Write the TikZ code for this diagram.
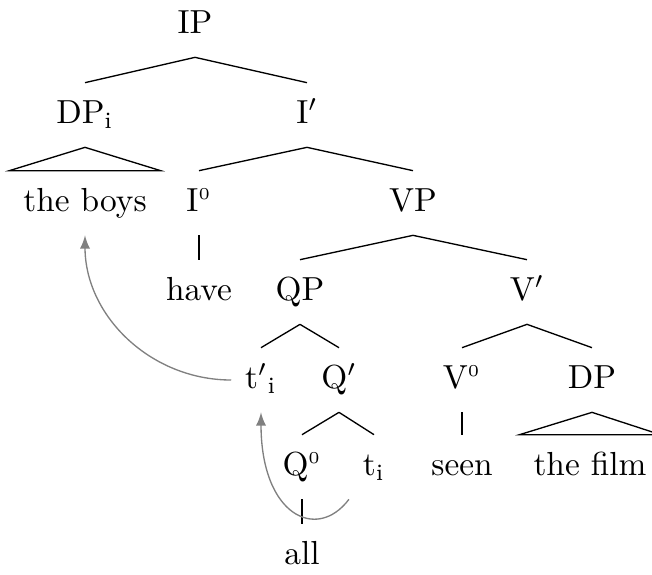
\documentclass[tikz,border=0pt]{standalone}
\usetikzlibrary{arrows}
\tikzset{>=latex}
\tikzset{font=\normalsize}
\tikzset{cat/.style={inner xsep=4pt, inner ysep=5pt, text height=7pt, text depth=2pt},
  trace/.style={->, gray, thin}}
\newcommand{\zerobar}{\textsuperscript{\tiny 0}}

\begin{document}
\begin{tikzpicture}[x=0.3pt, y=-0.3pt]
  \useasboundingbox (0,0) rectangle (652,574);
  % categories and words
  \node[cat] (ip) at (195,25) {IP};
  \node[cat] (dpi) at (85,115) {DP\textsubscript{i}};
  \node[cat] (ibar) at (307,115) {I$'$};
  \node[cat] (boys) at (85,203) {the boys};
  \node[cat] (izero) at (199,203) {I\zerobar};
  \node[cat] (vp) at (413,203) {VP};
  \node[cat] (have) at (199,292) {have};
  \node[cat] (qp) at (300,292) {QP};
  \node[cat] (vbar) at (527,292) {V$'$};
  \node[cat] (tpr) at (261,380) {t$'$\textsubscript{i}};
  \node[cat] (qbar) at (339,380) {Q$'$};
  \node[cat] (vzero) at (462,380) {V\zerobar};
  \node[cat] (dp) at (592,380) {DP};
  \node[cat] (qzero) at (302,467) {Q\zerobar};
  \node[cat] (ti) at (374,467) {t\textsubscript{i}};
  \node[cat] (seen) at (462,467) {seen};
  \node[cat] (film) at (590,467) {the film};
  \node[cat] (all) at (302,556) {all};
  % branches
  \draw (ip.south) -- (dpi.north);
  \draw (ip.south) -- (ibar.north);
  \draw (ibar.south) -- (izero.north);
  \draw (ibar.south) -- (vp.north);
  \draw (vp.south) -- (qp.north);
  \draw (vp.south) -- (vbar.north);
  \draw (qp.south) -- (tpr.north);
  \draw (qp.south) -- (qbar.north);
  \draw (vbar.south) -- (vzero.north);
  \draw (vbar.south) -- (dp.north);
  \draw (qbar.south) -- (qzero.north);
  \draw (qbar.south) -- (ti.north);
  \draw (izero.south) -- (have.north);
  \draw (vzero.south) -- (seen.north);
  \draw (qzero.south) -- (all.north);
  % triangles
  \draw (dpi.south) -- (boys.north west) -- (boys.north east) -- cycle;
  \draw (dp.south) -- (film.north west) -- (film.north east) -- cycle;
  % movement
  \draw[trace] (tpr.west) to[out=180, in=-90] (boys.south);
  \draw[trace] (ti.south west) to[out=-127, in=-90, out distance=16pt, in distance=31pt] (tpr.south);
\end{tikzpicture}
\end{document}
